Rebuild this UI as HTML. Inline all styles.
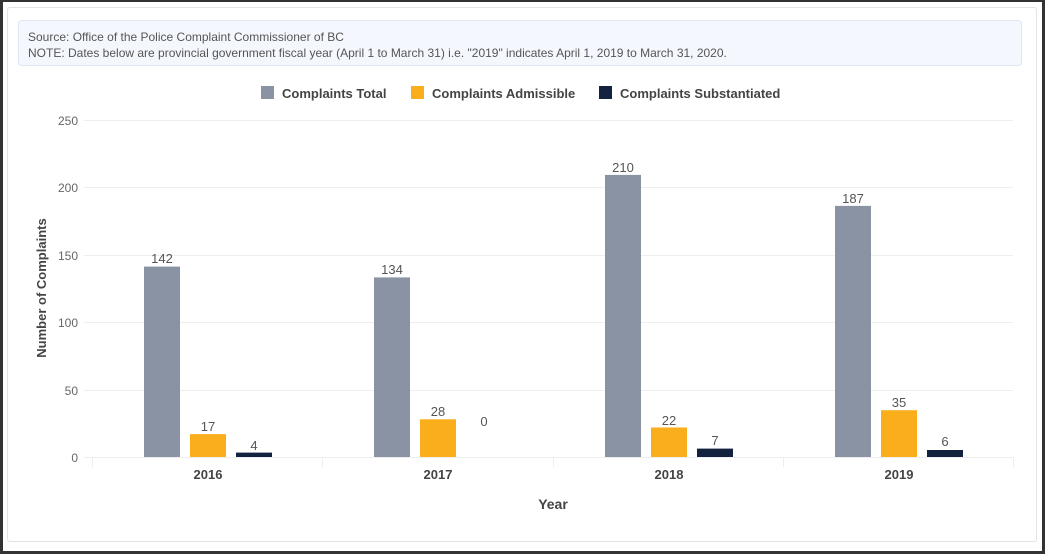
<!DOCTYPE html>
<html><head><meta charset="utf-8"><style>
html,body{margin:0;padding:0;background:#fff;}
body{width:1045px;height:556px;position:relative;overflow:hidden;font-family:"Liberation Sans",sans-serif;}
.outer{position:absolute;left:0;top:0;width:1039px;height:549px;border:3px solid #333;border-top:2px solid #333;box-sizing:content-box;}
.card{position:absolute;left:7px;top:7px;width:1028px;height:533px;border:1px solid #e3e3e3;border-radius:3px;}
.note{position:absolute;left:18px;top:20px;width:1004px;height:46px;background:#f4f7fd;border:1px solid #dfe6f3;border-radius:4px;font-size:12px;color:#555;line-height:16px;padding:8px 0 0 9px;box-sizing:border-box;}
</style></head><body>
<div class="outer"></div>
<div class="card"></div>
<div class="note">Source: Office of the Police Complaint Commissioner of BC<br>NOTE: Dates below are provincial government fiscal year (April 1 to March 31) i.e. "2019" indicates April 1, 2019 to March 31, 2020.</div>
<svg width="1045" height="556" style="position:absolute;left:0;top:0" font-family="Liberation Sans, sans-serif">
<g font-size="13" fill="#444" font-weight="bold">
<rect x="261" y="86" width="13" height="13" fill="#8a93a3"/><text x="282" y="98">Complaints Total</text>
<rect x="411" y="86" width="13" height="13" fill="#fbae1c"/><text x="432" y="98">Complaints Admissible</text>
<rect x="599" y="86" width="13" height="13" fill="#13233f"/><text x="620" y="98">Complaints Substantiated</text>
</g>
<g stroke="#eeeeee" stroke-width="1">
<line x1="84" x2="1013" y1="120.5" y2="120.5"/><line x1="84" x2="1013" y1="187.5" y2="187.5"/><line x1="84" x2="1013" y1="255.5" y2="255.5"/><line x1="84" x2="1013" y1="322.5" y2="322.5"/><line x1="84" x2="1013" y1="390.5" y2="390.5"/><line x1="84" x2="1013" y1="457.5" y2="457.5"/>
<line x1="92.5" x2="92.5" y1="457" y2="467"/><line x1="322.5" x2="322.5" y1="457" y2="467"/><line x1="553.5" x2="553.5" y1="457" y2="467"/><line x1="783.5" x2="783.5" y1="457" y2="467"/><line x1="1013.5" x2="1013.5" y1="457" y2="467"/>
</g>
<g font-size="12" fill="#666" text-anchor="end">
<text x="78" y="125">250</text><text x="78" y="192">200</text><text x="78" y="260">150</text><text x="78" y="327">100</text><text x="78" y="395">50</text><text x="78" y="462">0</text>
</g>
<text transform="translate(46,288) rotate(-90)" text-anchor="middle" font-size="13" font-weight="bold" fill="#444">Number of Complaints</text>
<text x="553" y="509" text-anchor="middle" font-size="14" font-weight="bold" fill="#444">Year</text>
<g font-size="13" font-weight="bold" fill="#444" text-anchor="middle">
<text x="208" y="479">2016</text><text x="438" y="479">2017</text><text x="669" y="479">2018</text><text x="899" y="479">2019</text>
</g>
<g>
<rect x="144" y="266.6" width="36" height="190.4" fill="#8a93a3"/>
<rect x="190" y="434.1" width="36" height="22.9" fill="#fbae1c"/>
<rect x="236" y="452.6" width="36" height="4.4" fill="#13233f"/>
<rect x="374" y="277.4" width="36" height="179.6" fill="#8a93a3"/>
<rect x="420" y="419.3" width="36" height="37.7" fill="#fbae1c"/>
<rect x="605" y="174.9" width="36" height="282.1" fill="#8a93a3"/>
<rect x="651" y="427.5" width="36" height="29.5" fill="#fbae1c"/>
<rect x="697" y="448.6" width="36" height="8.4" fill="#13233f"/>
<rect x="835" y="205.9" width="36" height="251.1" fill="#8a93a3"/>
<rect x="881" y="410.2" width="36" height="46.8" fill="#fbae1c"/>
<rect x="927" y="450" width="36" height="7" fill="#13233f"/>
</g>
<g font-size="13" fill="#555" text-anchor="middle">
<text x="162" y="263">142</text><text x="208" y="431">17</text><text x="254" y="450">4</text>
<text x="392" y="274">134</text><text x="438" y="416">28</text><text x="484" y="426">0</text>
<text x="623" y="172">210</text><text x="669" y="425">22</text><text x="715" y="445">7</text>
<text x="853" y="203">187</text><text x="899" y="407">35</text><text x="945" y="446">6</text>
</g>
</svg>
</body></html>
